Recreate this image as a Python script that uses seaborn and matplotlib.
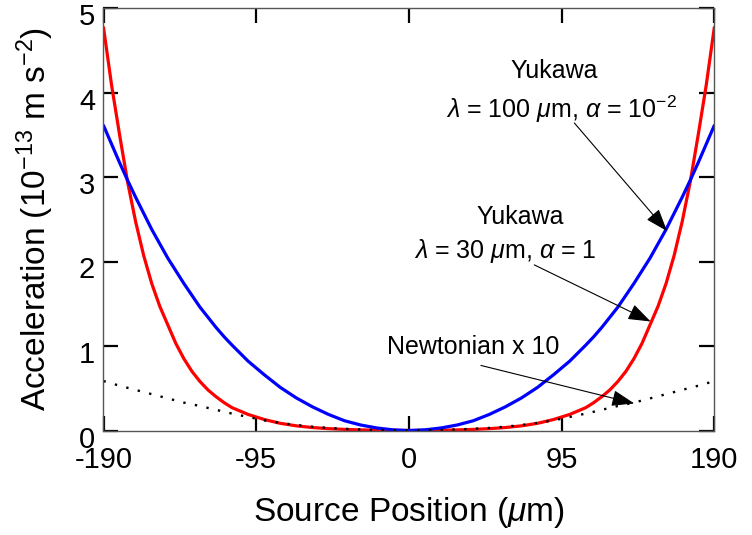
import matplotlib
matplotlib.use("Agg")
import matplotlib.pyplot as plt
import matplotlib.transforms as mtransforms
import seaborn as sns
import pandas as pd

# ---- data ----
x_pos = [-190, -185, -180, -175, -170, -165, -160, -155, -150, -145, -140, -135, -130, -125, -120, -115, -110, -100,
         -90, -80, -70, -60, -50, -40, -30, -20, -10, 0, 10, 20, 30, 40, 50, 60, 70, 80, 90,
         100, 110, 115, 120, 125, 130, 135, 140, 145, 150, 155, 160, 165, 170, 175, 180, 185, 190]

yukawa_30 = [4.77, 4.09, 3.50, 2.94, 2.47, 2.07, 1.74, 1.47, 1.25, 1.03, 0.85, 0.70, 0.58, 0.48, 0.40, 0.33, 0.27, 0.19,
             0.13, 0.085, 0.055, 0.035, 0.022, 0.013, 0.007, 0.003, 0.001, 0.0, 0.001, 0.003, 0.007, 0.013, 0.022, 0.035, 0.055, 0.085, 0.13,
             0.19, 0.27, 0.33, 0.40, 0.48, 0.58, 0.70, 0.85, 1.03, 1.25, 1.47, 1.74, 2.07, 2.47, 2.94, 3.50, 4.09, 4.77]

yukawa_100 = [3.61, 3.39, 3.17, 2.96, 2.76, 2.57, 2.38, 2.21, 2.04, 1.89, 1.74, 1.60, 1.46, 1.34, 1.22, 1.11, 1.01, 0.82,
              0.66, 0.51, 0.385, 0.28, 0.19, 0.115, 0.065, 0.03, 0.008, 0.0, 0.008, 0.03, 0.065, 0.115, 0.19, 0.28, 0.385, 0.51, 0.66,
              0.82, 1.01, 1.11, 1.22, 1.34, 1.46, 1.60, 1.74, 1.89, 2.04, 2.21, 2.38, 2.57, 2.76, 2.96, 3.17, 3.39, 3.61]

newton_x10 = [0.585, 0.557, 0.53, 0.505, 0.48, 0.455, 0.43, 0.405, 0.38, 0.355, 0.33, 0.31, 0.29, 0.267, 0.245, 0.222, 0.20, 0.16,
              0.12, 0.09, 0.065, 0.045, 0.03, 0.02, 0.012, 0.006, 0.002, 0.0, 0.002, 0.006, 0.012, 0.02, 0.03, 0.045, 0.065, 0.09, 0.12,
              0.16, 0.20, 0.222, 0.245, 0.267, 0.29, 0.31, 0.33, 0.355, 0.38, 0.405, 0.43, 0.455, 0.48, 0.505, 0.53, 0.557, 0.585]

x_ticks = [-190, -95, 0, 95, 190]
y_ticks = [0, 1, 2, 3, 4, 5]

ann_text = ["Yukawa", r"$\lambda$ = 100 $\mu$m, $\alpha$ = 10$^{-2}$",
            "Yukawa", r"$\lambda$ = 30 $\mu$m, $\alpha$ = 1",
            "Newtonian x 10"]
ann_xy = [(90.5, 4.25), (95.0, 3.80), (69.0, 2.53), (59.8, 2.12), (39.9, 0.99)]
arrow_from = [(102.9, 3.64), (78.0, 1.96), (44.8, 0.77)]
arrow_to = [(160.6, 2.36), (150.4, 1.29), (140.2, 0.32)]

# ---- style ----
sns.set_style("ticks")
plt.rcParams["font.family"] = ["Liberation Sans", "DejaVu Sans"]
plt.rcParams["mathtext.fontset"] = "custom"
plt.rcParams["mathtext.rm"] = "Liberation Sans"
plt.rcParams["mathtext.it"] = "Liberation Sans:italic"
plt.rcParams["mathtext.bf"] = "Liberation Sans:bold"
for k in ["text.color", "axes.labelcolor", "xtick.color", "ytick.color",
          "xtick.labelcolor", "ytick.labelcolor"]:
    plt.rcParams[k] = "black"

df = pd.DataFrame({"x": x_pos, "y30": yukawa_30, "y100": yukawa_100, "newt": newton_x10})

fig = plt.figure(figsize=(7.52, 5.35), dpi=100)
ax = fig.add_axes([103.5 / 752, 1 - 430.5 / 535, 610.8 / 752, 422.5 / 535])

sns.lineplot(data=df, x="x", y="y30", ax=ax, color="#ff0000", lw=2.3, sort=False, estimator=None)
sns.lineplot(data=df, x="x", y="y100", ax=ax, color="#0000ff", lw=2.3, sort=False, estimator=None)
sns.lineplot(data=df, x="x", y="newt", ax=ax, color="black", lw=1.7, sort=False, estimator=None,
             linestyle=(0, (1, 4.0)))

ax.set_xlim(-190, 190)
ax.set_ylim(0, 5)
ax.set_xticks(x_ticks)
ax.set_yticks(y_ticks)
ax.set_xticklabels([str(t) for t in x_ticks])
ax.set_yticklabels([str(t) for t in y_ticks])

for s in ax.spines.values():
    s.set_visible(True)
    s.set_color("#555555")
    s.set_linewidth(1.0)

ax.tick_params(axis="both", which="major", direction="in", length=11, width=1.6, color="black",
               labelcolor="black", top=True, right=True, labelsize=21)
ax.tick_params(axis="x", pad=11)
ax.tick_params(axis="y", pad=6)

# the reference's y tick labels sit a little below their ticks
offset = mtransforms.ScaledTranslation(0, -6 / 100, fig.dpi_scale_trans)
for lab in ax.get_yticklabels():
    lab.set_transform(lab.get_transform() + offset)

ax.set_xlabel(r"Source Position ($\mu$m)", fontsize=24)
ax.set_ylabel(r"Acceleration (10$^{-13}$ m s$^{-2}$)", fontsize=24)
ax.xaxis.set_label_coords(0.5, -0.152)
ax.yaxis.set_label_coords(-0.078, 0.5)

for txt, (tx, ty) in zip(ann_text, ann_xy):
    ax.text(tx, ty, txt, ha="center", va="center", fontsize=18, color="black")

for (x0, y0), (x1, y1) in zip(arrow_from, arrow_to):
    ax.annotate("", xy=(x1, y1), xytext=(x0, y0),
                arrowprops=dict(arrowstyle="-|>,head_length=1.4,head_width=0.5", mutation_scale=10,
                                color="black", lw=0.8, shrinkA=0, shrinkB=0))

fig.savefig("out.png", dpi=100)
